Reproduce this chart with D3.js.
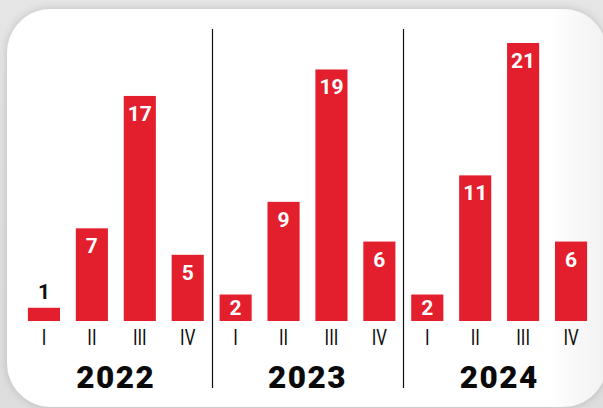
<!DOCTYPE html>
<html>
<head>
<meta charset="utf-8">
<script src="https://cdn.jsdelivr.net/npm/d3@7"></script>
<style>
  html, body { margin: 0; padding: 0; background: #e2e2e2; }
  svg { display: block; }
</style>
</head>
<body>
<script>
const years = ["2022", "2023", "2024"];
const quarters = ["I", "II", "III", "IV"];
const values2022 = [1, 7, 17, 5];
const values2023 = [2, 9, 19, 6];
const values2024 = [2, 11, 21, 6];
const seriesValues = [values2022, values2023, values2024];

const W = 603, H = 408;
const data = [];
years.forEach((y, yi) => quarters.forEach((q, qi) => data.push({ year: y, q, v: seriesValues[yi][qi], key: y + "-" + q })));

const svg = d3.select("body").append("svg").attr("width", W).attr("height", H);
const defs = svg.append("defs");

const bgGrad = defs.append("linearGradient").attr("id", "bg").attr("x1", 0).attr("y1", 0).attr("x2", 0).attr("y2", 1);
bgGrad.append("stop").attr("offset", "0").attr("stop-color", "#e6e6e6");
bgGrad.append("stop").attr("offset", "1").attr("stop-color", "#dedede");
svg.append("rect").attr("width", W).attr("height", H).attr("fill", "url(#bg)");

const sh = defs.append("filter").attr("id", "shadow").attr("x", "-10%").attr("y", "-10%").attr("width", "120%").attr("height", "120%");
sh.append("feDropShadow").attr("dx", 0).attr("dy", 0).attr("stdDeviation", 5).attr("flood-color", "#000").attr("flood-opacity", 0.18);

const cardGrad = defs.append("linearGradient").attr("id", "card").attr("x1", 0).attr("y1", 0).attr("x2", 1).attr("y2", 0);
cardGrad.append("stop").attr("offset", "0").attr("stop-color", "#ffffff");
cardGrad.append("stop").attr("offset", "0.9").attr("stop-color", "#ffffff");
cardGrad.append("stop").attr("offset", "1").attr("stop-color", "#f1f1f1");

svg.append("rect").attr("x", 7).attr("y", 9).attr("width", 600).attr("height", 398)
  .attr("rx", 44).attr("ry", 44).attr("fill", "url(#card)").attr("filter", "url(#shadow)");

const x = d3.scaleBand().domain(data.map(d => d.key)).range([20, 595]).paddingInner(0.33).paddingOuter(0.165);
const y = d3.scaleLinear().domain([0, 21]).range([321, 43]);
const bw = x.bandwidth();
const gap = x.step() - bw;

const red = "#e41f2d";

svg.append("g").selectAll("rect").data(data).join("rect")
  .attr("x", d => x(d.key)).attr("y", d => y(d.v))
  .attr("width", bw).attr("height", d => y(0) - y(d.v))
  .attr("fill", red);

svg.append("g").selectAll("text").data(data).join("text")
  .attr("x", d => x(d.key) + bw / 2)
  .attr("y", d => {
    const top = y(d.v);
    if (y(0) - top < 18) return top - 9;
    return Math.min(top + 25, y(0) - 6);
  })
  .attr("text-anchor", "middle")
  .attr("font-family", "Roboto, 'Open Sans', sans-serif")
  .attr("font-weight", 700)
  .attr("font-size", 21)
  .attr("fill", d => (y(0) - y(d.v) < 18) ? "#111" : "#fff")
  .text(d => d.v);

// quarter labels (condensed look)
svg.append("g").selectAll("text").data(data).join("text")
  .attr("transform", d => `translate(${x(d.key) + bw / 2},345) scale(0.78,1)`)
  .attr("text-anchor", "middle")
  .attr("font-family", "Roboto, sans-serif")
  .attr("font-weight", 400)
  .attr("font-size", 21.5)
  .attr("fill", "#111")
  .text(d => d.q);

// year labels
svg.append("g").selectAll("text").data(years).join("text")
  .attr("x", yr => (x(yr + "-I") + x(yr + "-IV") + bw) / 2)
  .attr("y", 388)
  .attr("text-anchor", "middle")
  .attr("font-family", "Roboto, sans-serif")
  .attr("font-weight", 900)
  .attr("font-size", 31.5)
  .attr("letter-spacing", 1.5)
  .attr("fill", "#0a0a0a")
  .text(yr => yr);

// dividers
svg.append("g").selectAll("line").data(years.slice(1)).join("line")
  .attr("x1", yr => Math.round(x(yr + "-I") - gap / 2) + 0.5)
  .attr("x2", yr => Math.round(x(yr + "-I") - gap / 2) + 0.5)
  .attr("y1", 29).attr("y2", 388)
  .attr("stroke", "#111").attr("stroke-width", 1.2);
</script>
</body>
</html>
